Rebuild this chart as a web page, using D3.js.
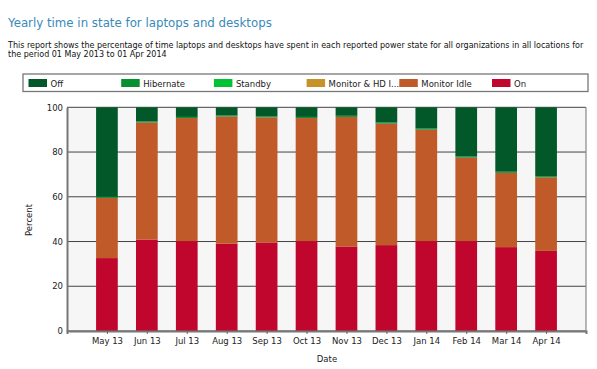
<!DOCTYPE html>
<html><head><meta charset="utf-8">
<script src="https://cdn.jsdelivr.net/npm/d3@7"></script>
<style>
html,body{margin:0;padding:0;background:#fff;}
svg{display:block;}
text{font-family:"DejaVu Sans",Verdana,sans-serif;}
</style></head>
<body><svg id="c" width="597" height="369"></svg>
<script>
const categories = ["May 13","Jun 13","Jul 13","Aug 13","Sep 13","Oct 13","Nov 13","Dec 13","Jan 14","Feb 14","Mar 14","Apr 14"];
const seriesNames = ["On","Monitor Idle","Monitor & HD Idle","Standby","Hibernate","Off"];
const onVals        = [32.6,40.9,40.2,39.0,39.6,40.2,37.8,38.4,40.2,40.2,37.5,35.8];
const monitorIdle   = [26.9,52.3,55.0,56.9,55.9,55.0,57.9,54.3,49.8,37.3,33.2,32.9];
const monitorHDIdle = [0,0,0,0,0,0,0,0,0,0,0,0];
const standby       = [0,0,0,0,0,0,0,0,0,0,0,0];
const hibernate     = [0.5,0.5,0.5,0.5,0.5,0.5,0.5,0.5,0.5,0.5,0.5,0.5];
const offVals       = [40.0,6.3,4.3,3.6,4.0,4.3,3.8,6.8,9.5,22.0,28.8,30.8];
const yTicks = [0,20,40,60,80,100];
const colors = {"Off":"#03582a","Hibernate":"#069030","Standby":"#00c232","Monitor & HD Idle":"#c8922a","Monitor Idle":"#c05a28","On":"#c0062c"};
const legendItems = [["Off","Off"],["Hibernate","Hibernate"],["Standby","Standby"],["Monitor & HD Idle","Monitor & HD I..."],["Monitor Idle","Monitor Idle"],["On","On"]];

const svg = d3.select("#c");
// fit a text to a target width by scaling font-size horizontally, keeping visual height
function fitText(str, x, y, size, width, fill){
  const g = svg.append("g");
  const t = g.append("text").attr("x",0).attr("y",0).attr("font-size",size+"px").attr("fill",fill).text(str);
  const w = t.node().getComputedTextLength();
  const s = size*width/w;
  t.attr("font-size",s+"px");
  g.attr("transform",`translate(${x},${y}) scale(1,${size/s})`);
}
fitText("Yearly time in state for laptops and desktops",8,27,13,264,"#3a8ab8");
fitText("This report shows the percentage of time laptops and desktops have spent in each reported power state for all organizations in all locations for",8,48,8.5,576,"#111");
fitText("the period 01 May 2013 to 01 Apr 2014",8,57,8.5,159,"#111");

// legend
const lg = svg.append("g");
lg.append("rect").attr("x",23).attr("y",74).attr("width",565).attr("height",17.5)
  .attr("fill","#fff").attr("stroke","#777").attr("stroke-width",1.3);
legendItems.forEach((d,i)=>{
  const x = 28.5 + i*92.7;
  lg.append("rect").attr("x",x).attr("y",79).attr("width",18.5).attr("height",8).attr("fill",colors[d[0]]);
  lg.append("text").attr("x",x+22).attr("y",86.5).attr("font-size","8.5px").attr("fill","#222").text(d[1]);
});

const L=67, R=586, T=107.3, B=331;
const x = d3.scalePoint().domain(categories).range([L,R]).padding(1);
const y = d3.scaleLinear().domain([0,100]).range([B,T]);
svg.append("rect").attr("x",L).attr("y",T).attr("width",R-L).attr("height",B-T).attr("fill","#f6f6f6");
// grid
svg.append("g").selectAll("line").data(yTicks).join("line")
  .attr("x1",L).attr("x2",R).attr("y1",d=>y(d)).attr("y2",d=>y(d))
  .attr("stroke","#444").attr("stroke-width",1);

const data = categories.map((c,i)=>({cat:c,"On":onVals[i],"Monitor Idle":monitorIdle[i],"Monitor & HD Idle":monitorHDIdle[i],"Standby":standby[i],"Hibernate":hibernate[i],"Off":offVals[i]}));
const stack = d3.stack().keys(seriesNames)(data);
const bw = 21.7;
svg.append("g").selectAll("g").data(stack).join("g").attr("fill",d=>colors[d.key])
  .selectAll("rect").data(d=>d).join("rect")
  .attr("x",d=>x(d.data.cat)-bw/2).attr("width",bw)
  .attr("y",d=>y(d[1])).attr("height",d=>Math.max(0,y(d[0])-y(d[1])));

// right border
svg.append("line").attr("x1",R).attr("x2",R).attr("y1",T).attr("y2",B).attr("stroke","#888").attr("stroke-width",1.2);

// axes
const ya = svg.append("g").attr("transform",`translate(${L},0)`)
  .call(d3.axisLeft(y).tickValues(yTicks).tickSize(0).tickPadding(4));
ya.select(".domain").attr("stroke","#777").attr("stroke-width",2);
ya.selectAll("text").attr("font-size","8.5px").attr("fill","#222").attr("font-family","DejaVu Sans");
const xa = svg.append("g").attr("transform",`translate(0,${B})`)
  .call(d3.axisBottom(x).tickSize(3).tickPadding(4));
xa.select(".domain").attr("stroke","#777").attr("stroke-width",2);
xa.selectAll(".tick line").attr("stroke","#666");
xa.selectAll("text").attr("font-size","8.5px").attr("fill","#222").attr("font-family","DejaVu Sans");

svg.append("text").attr("transform","translate(32,220) rotate(-90)").attr("text-anchor","middle")
  .attr("font-size","8.5px").attr("fill","#222").text("Percent");
svg.append("text").attr("x",327).attr("y",362).attr("text-anchor","middle")
  .attr("font-size","8.5px").attr("fill","#222").text("Date");
</script></body></html>
